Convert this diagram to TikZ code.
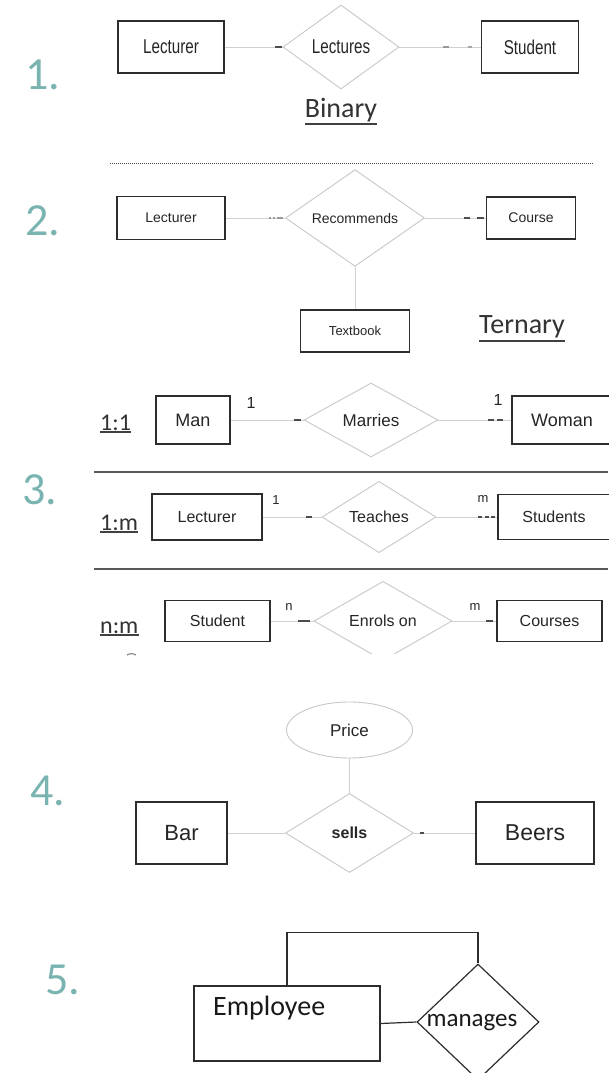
\documentclass[tikz,border=0pt]{standalone}
\usepackage{fontspec}
\usepackage{graphicx}
\setmainfont{Liberation Sans}
\newfontfamily\calib{Carlito}
\usetikzlibrary{shapes.geometric}
\definecolor{tealnum}{RGB}{122,180,177}
\definecolor{inkline}{RGB}{45,45,45}
\definecolor{palerel}{RGB}{200,200,200}
\definecolor{palelink}{RGB}{208,208,208}
\newcommand\fs[1]{\fontsize{#1}{#1}\selectfont}
\newcommand\narrowtxt[1]{\scalebox{0.76}[1]{#1}}

\begin{document}
\begin{tikzpicture}[x=1pt,y=-1pt,
  ent/.style={draw=inkline, line width=1.1pt, rectangle, inner sep=0pt, text=black!85},
  rel/.style={draw=palerel, line width=0.9pt, diamond, inner sep=0pt, text=black!85},
  link/.style={draw=palelink, line width=0.9pt},
  tick/.style={draw=black!70, line width=1.2pt},
  num/.style={text=tealnum, font=\calib\fs{46}, inner sep=0pt},
  heading/.style={text=black!80, font=\calib\fs{28}, inner sep=0pt, anchor=base},
  ratio/.style={text=black!80, font=\calib\fs{24}, inner sep=0pt, anchor=base west},
  card/.style={text=black!85, font=\fs{13}, inner sep=0pt},
  uline/.style={draw=black!75, line width=1.3pt},
  sepline/.style={draw=black!65, line width=1.4pt},
]
\path[use as bounding box, fill=white] (0,0) rectangle (608,1073);

% ---------- 1. binary relationship ----------
\node[num] (n1) at (43,75) {1.};
\node[ent, minimum width=106, minimum height=52, font=\fs{20}] (lec1) at (171,47) {\narrowtxt{Lecturer}};
\node[rel, minimum width=116, minimum height=84, font=\fs{20}] (lects) at (341,47) {\narrowtxt{Lectures}};
\node[ent, minimum width=97, minimum height=52, font=\fs{20}] (stu1) at (530,47) {\narrowtxt{Student}};
\draw[link] (lec1) -- (lects);
\draw[link] (lects) -- (stu1);
\draw[tick] ([xshift=-1pt]lects.west) -- ++(-7,0);
\draw[tick, draw=black!40] ([xshift=-38pt]stu1.west) -- ++(6,0);
\draw[tick, draw=black!35] ([xshift=-13pt]stu1.west) -- ++(4,0);
\node[heading] (bin) at (341,117) {Binary};
\draw[uline] ([yshift=-7pt]bin.base west) -- ([yshift=-7pt]bin.base east);

% ---------- 2. ternary relationship ----------
\draw[black!70, line width=0.8pt, dash pattern=on 1.2pt off 0.8pt] (110,163) -- (593,163);
\node[num] (n2) at (43,221) {2.};
\node[ent, minimum width=108, minimum height=43, font=\fs{14}] (lec2) at (171,218) {Lecturer};
\node[rel, minimum width=139, minimum height=80, font=\fs{14}] (recs) at (355,218) {Recommends};
\node[ent, minimum width=89, minimum height=42, font=\fs{14}] (crs) at (531,218) {Course};
\node[ent, minimum width=109, minimum height=42, font=\fs{13}] (tbk) at (355,331) {Textbook};
\draw[link] (lec2) -- (recs);
\draw[link] (recs) -- (crs);
\draw[link] (recs) -- (tbk);
\draw[tick, draw=black!40, dash pattern=on 6pt off 2pt on 2pt off 2pt] ([xshift=-2pt]recs.west) -- ++(-14,0);
\draw[tick] ([xshift=-22pt]crs.west) -- ++(6,0);
\draw[tick] ([xshift=-9pt]crs.west) -- ++(7,0);
\node[heading] (ter) at (522,333) {Ternary};
\draw[uline] ([yshift=-8pt]ter.base west) -- ([yshift=-8pt]ter.base east);

% ---------- 3. cardinalities ----------
\node[num] (n3) at (40,490) {3.};

% 1:1
\node[ratio] (r11) at (100,430) {1:1};
\draw[uline] ([yshift=-2pt]r11.base west) -- ([yshift=-2pt]r11.base east);
\node[ent, minimum width=74, minimum height=48, font=\fs{18}] (man) at (193,420) {Man};
\node[rel, minimum width=134, minimum height=74, font=\fs{17}] (mar) at (371,420) {Marries};
\node[ent, minimum width=100, minimum height=48, font=\fs{18}] (wom) at (562,420) {Woman};
\node[card, font=\fs{16}] (c11a) at (251,403) {1};
\node[card, font=\fs{16}] (c11b) at (498,400) {1};
\draw[link] (man) -- (mar);
\draw[link] (mar) -- (wom);
\draw[tick] ([xshift=-3pt]mar.west) -- ++(-7,0);
\draw[tick] ([xshift=-23pt]wom.west) -- ++(6,0);
\draw[tick] ([xshift=-14pt]wom.west) -- ++(6,0);

\draw[sepline] (94,472) -- (608,472);

% 1:m
\node[ratio] (r1m) at (100,530) {1:m};
\draw[uline] ([yshift=-2pt]r1m.base west) -- ([yshift=-2pt]r1m.base east);
\node[ent, minimum width=110, minimum height=46, font=\fs{16}] (lec3) at (207,517) {Lecturer};
\node[rel, minimum width=114, minimum height=69, font=\fs{16}] (tch) at (379,517) {Teaches};
\node[ent, minimum width=112, minimum height=45, font=\fs{16}] (stus) at (554,517) {Students};
\node[card] (c1ma) at (276,500) {1};
\node[card] (c1mb) at (483,499) {m};
\draw[link] (lec3) -- (tch);
\draw[link] (tch) -- (stus);
\draw[tick] ([xshift=-10pt]tch.west) -- ++(-6,0);
\draw[tick, dash pattern=on 4pt off 2.5pt] ([xshift=-19pt]stus.west) -- (stus.west);

\draw[sepline] (94,569) -- (608,569);

% n:m
\node[ratio] (rnm) at (100,633) {n:m};
\draw[uline] ([yshift=-2pt]rnm.base west) -- ([yshift=-2pt]rnm.base east);
\node[ent, minimum width=105, minimum height=41, font=\fs{16}] (stu3) at (217.5,621) {Student};
\begin{scope}
  \clip (0,560) rectangle (608,653);
  \node[rel, minimum width=138, minimum height=72, font=\fs{16}] (enr) at (383,621) {Enrols on};
\end{scope}
\node[ent, minimum width=105, minimum height=41, font=\fs{16}] (crs3) at (549.5,621) {Courses};
\node[card] (cnma) at (289,607) {n};
\node[card] (cnmb) at (475,607) {m};
\draw[link] (stu3) -- (enr);
\draw[link] (enr) -- (crs3);
\draw[tick] ([xshift=-4pt]enr.west) -- ++(-12,0);
\draw[tick] ([xshift=-3pt]crs3.west) -- ++(-7,0);
\draw[black!45, line width=1.2pt] (127,655) to[bend left=30] (136,655);

% ---------- 4. attribute on a relationship ----------
\node[draw=palerel, line width=0.9pt, ellipse, inner sep=0pt, minimum width=126, minimum height=56, font=\fs{17}, text=black!85] (price) at (349.5,730) {Price};
\node[num] (n4) at (48,791) {4.};
\node[ent, minimum width=91, minimum height=62, font=\fs{22}] (bar) at (181.5,833) {Bar};
\node[rel, minimum width=128, minimum height=79, font=\bfseries\fs{16}] (sells) at (349.5,833) {sells};
\node[ent, minimum width=118, minimum height=62, font=\fs{23}] (beer) at (535,833) {Beers};
\draw[link] (price) -- (sells);
\draw[link] (bar) -- (sells);
\draw[link] (sells) -- (beer);
\draw[tick] ([xshift=6pt]sells.east) -- ++(4,0);

% ---------- 5. recursive relationship ----------
\node[num] (n5) at (63,980) {5.};
\node[draw=inkline, line width=1.2pt, minimum width=186, minimum height=75, inner sep=0pt] (emp) at (287,1023.5) {};
\node[anchor=base west, inner sep=0pt, font=\calib\fs{28}, text=black!90] (emplabel) at (213,1015) {Employee};
\node[diamond, draw=inkline, line width=1.2pt, minimum width=122, minimum height=116, inner sep=0pt] (mng) at (478,1022) {};
\node[inner sep=0pt, font=\calib\fs{25}, text=black!90] (mnglabel) at (472,1023) {manages};
\draw[inkline, line width=1.2pt] (emp.east) -- (mng.west);
\draw[inkline, line width=1.2pt] (emp.north) -- ++(0,-53) -| (mng.north);
\end{tikzpicture}
\end{document}
